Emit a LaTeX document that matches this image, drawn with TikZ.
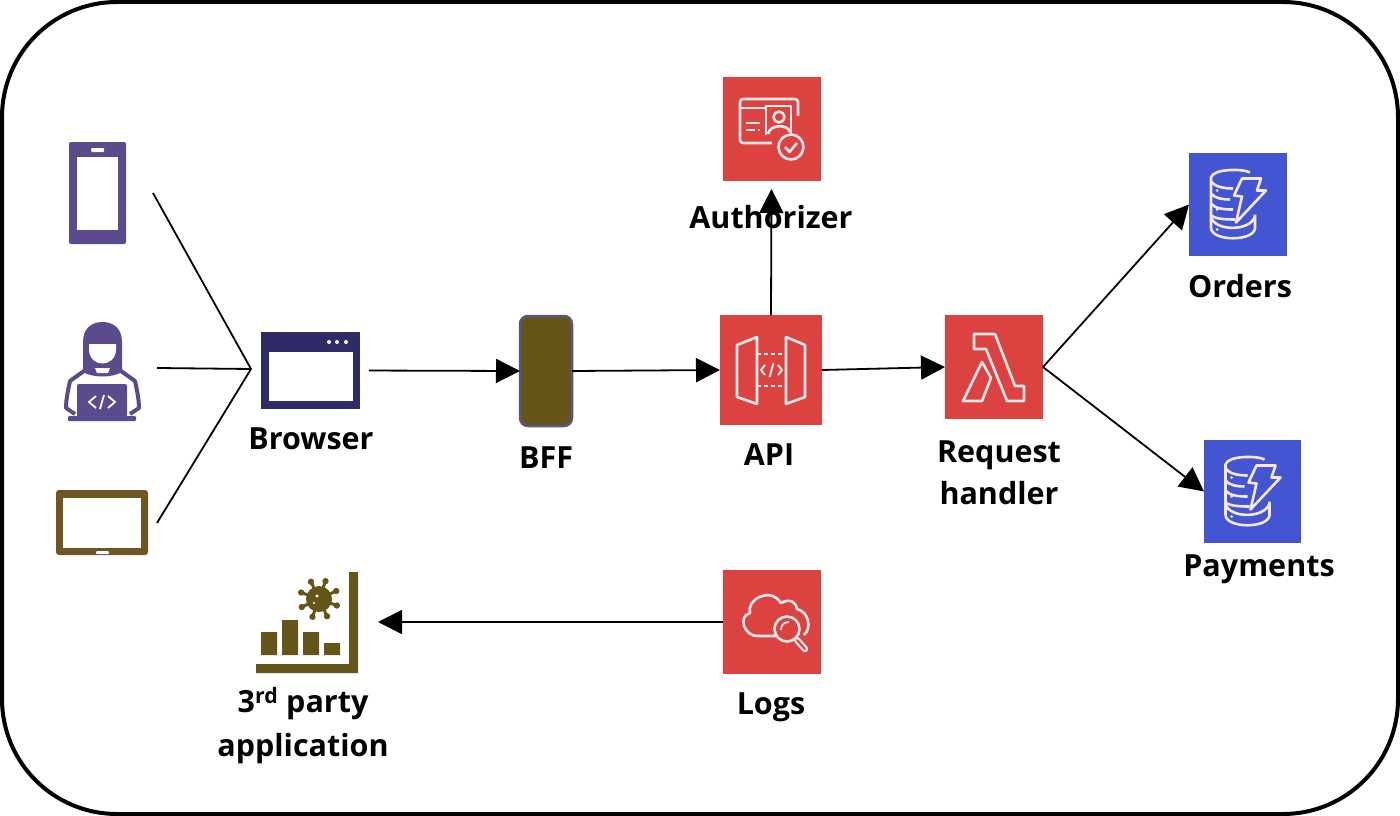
\documentclass[tikz,border=0pt]{standalone}
\usepackage{fontspec}
\setmainfont{Open Sans}
\usetikzlibrary{arrows.meta}

\definecolor{awsred}{HTML}{DC4240}
\definecolor{dbblue}{HTML}{4355D0}
\definecolor{devpurple}{HTML}{5B4A8C}
\definecolor{navy}{HTML}{2F2B66}
\definecolor{olive}{HTML}{665518}
\definecolor{tabletbrown}{HTML}{6E5522}
\definecolor{glyphwhite}{HTML}{F6E8EA}

\tikzset{
  frame/.style={draw=black, line width=4pt, rounded corners=115pt, inner sep=0pt},
  tile/.style={inner sep=0pt, outer sep=0pt},
  label/.style={font=\bfseries\fontsize{30.5}{32}\selectfont, text=black, inner sep=0pt},
  link/.style={draw=black, line width=1.8pt},
  arrow/.style={link, -{Triangle[length=24pt,width=24pt]}},
  glyph/.style={draw=glyphwhite, line width=2.6pt, line join=round},
  pics/dynamo/.style={code={
    \draw[glyph] (-27,24) -- (-27,-27) .. controls (-25,-36) and (5,-36) .. (12,-32);
    \draw[glyph] (-27,-23) .. controls (-23,-18) and (-15,-16) .. (-5,-16);
    \draw[glyph] (-27,-11) .. controls (-23,-6) and (-15,-5) .. (-8,-5);
    \draw[glyph] (-27,-1) .. controls (-23,4) and (-15,5) .. (-5,5);
    \draw[glyph] (-27,11) .. controls (-23,14) and (-15,15) .. (-3,15);
    \draw[glyph] (-27,13) .. controls (-22,27) and (12,27) .. (17,12);
    \draw[glyph] (17,10) -- (17,24) .. controls (15,37) and (-25,37) .. (-27,24);
    \draw[glyph] (4,-26) -- (23,-26) -- (19,-14) -- (28,-14) -- (-2,18) -- (4,-8) -- (-4,-9) -- cycle;
    \foreach \y in {-14,5,25} \fill[glyphwhite] (-21,\y) circle (1.5);
  }}
}

\begin{document}
\begin{tikzpicture}[x=1pt,y=-1pt]
  \useasboundingbox (0,0) rectangle (1400,816);
  \node[frame, minimum width=1396pt, minimum height=812pt] (outline) at (700,408) {};

  % phone
  \node[tile, fill=devpurple, rounded corners=2pt, minimum width=57pt, minimum height=102pt] (phone) at (97.5,193) {};
  \fill[white] (77,157) rectangle (118,230);
  \fill[white, rounded corners=1pt] (91,148) rectangle (104,152);

  % developer
  \coordinate (developer) at (102,372);
  \fill[devpurple] (83,372) -- (83,342) .. controls (83,328) and (92,322) .. (102.5,322) .. controls (113,322) and (122,328) .. (122,342) -- (122,372) .. controls (112,378) and (93,378) .. (83,372) -- cycle;
  \fill[white] (89,344) -- (116,344) -- (116,350) .. controls (115,368) and (90,368) .. (89,350) -- cycle;
  \fill[white] (95,368) -- (110,368) -- (108,373) -- (97,373) -- cycle;
  \draw[devpurple, line width=4pt, line join=round] (84,371) -- (70,381) .. controls (68,390) and (66,400) .. (66,408) -- (75,414);
  \draw[devpurple, line width=4pt, line join=round] (121,371) -- (135,381) .. controls (137,390) and (139,400) .. (139,408) -- (130,414);
  \fill[devpurple, rounded corners=2pt] (77,384) rectangle (127,417);
  \fill[devpurple, rounded corners=1pt] (68,416) rectangle (136,421);
  \draw[white, line width=1.8pt] (96,396) -- (89,402) -- (96,408) (100,409) -- (104,395) (108,396) -- (115,402) -- (108,408);

  % tablet
  \node[tile, fill=tabletbrown, rounded corners=3pt, minimum width=92pt, minimum height=65pt] (tablet) at (102,522.5) {};
  \fill[white] (63,498) rectangle (141,548);
  \fill[white, rounded corners=1pt] (96,551) rectangle (109,554);

  % browser
  \node[tile, fill=navy, minimum width=99pt, minimum height=77pt] (browser) at (310.5,370.5) {};
  \fill[white] (269,352) rectangle (353,401);
  \foreach \x in {329,337,346} \fill[white] (\x,342) circle (2);

  % bff
  \node[tile, fill=olive, draw=navy!80!white, line width=2.5pt, rounded corners=8pt, minimum width=52pt, minimum height=110pt] (bff) at (546,371) {};

  % authorizer
  \node[tile, fill=awsred, minimum width=98pt, minimum height=104pt] (authorizer) at (771.5,129) {};
  \draw[glyph, rounded corners=3pt] (798,116) -- (798,99) -- (740,99) -- (740,143) -- (772,143);
  \draw[glyph] (740,108) -- (766,108);
  \draw[glyph] (746,123) -- (760,123) (746,130) -- (755,130) (758,130) -- (760,130);
  \draw[glyph] (766,135) -- (766,106) -- (791,106) -- (791,133);
  \draw[glyph] (779,117) circle (5.5);
  \draw[glyph] (768,134) .. controls (770,124) and (788,124) .. (790,132);
  \draw[glyph, fill=awsred] (791,147) circle (12.5);
  \draw[glyph] (785,147) -- (789.5,152) -- (797,143);

  % api
  \node[tile, fill=awsred, minimum width=102pt, minimum height=110pt] (api) at (771,370) {};
  \draw[glyph] (737,345) -- (757,337) -- (757,404) -- (737,397) -- cycle;
  \draw[glyph] (786,337) -- (805,345) -- (805,397) -- (786,404) -- cycle;
  \draw[glyph, dash pattern=on 4pt off 3pt] (757,354) -- (786,354) (757,386) -- (786,386);
  \draw[glyph, line width=2pt] (765,365) -- (761,370) -- (765,375) (769.5,377) -- (773.5,363) (778,365) -- (782,370) -- (778,375);

  % lambda
  \node[tile, fill=awsred, minimum width=98pt, minimum height=104pt] (lambda) at (994,367) {};
  \draw[glyph] (974,334) -- (995,334) -- (1015,386) -- (1024,386) -- (1024,401) -- (1007,401) -- (986,349) -- (974,349) -- cycle;
  \draw[glyph] (963,401) -- (982,362) -- (991,378) -- (982,401) -- cycle;

  % orders and payments
  \node[tile, fill=dbblue, minimum width=98pt, minimum height=103pt] (orders) at (1238,204.5) {};
  \node[tile, fill=dbblue, minimum width=97pt, minimum height=103pt] (payments) at (1252.5,491.5) {};
  \pic at (orders.center) {dynamo};
  \pic at (payments.center) {dynamo};

  % logs
  \node[tile, fill=awsred, minimum width=98pt, minimum height=104pt] (logs) at (772,622) {};
  \draw[glyph] (778,636) -- (757,636) .. controls (745,636) and (737,617) .. (750,613) .. controls (746,600) and (770,586) .. (781,603) .. controls (790,598) and (796,602) .. (797,609) .. controls (809,612) and (812,628) .. (804,635);
  \draw[glyph] (787,629) circle (12.5);
  \draw[glyph, line width=1.8pt] (781,630) .. controls (781,625) and (784,622) .. (789,622);
  \draw[glyph, line width=6.5pt, line cap=round] (797,640) -- (805,649);
  \draw[awsred, line width=2pt, line cap=round] (797,640) -- (805,649);

  % 3rd party application
  \coordinate (party) at (357,622);
  \fill[olive] (349,572) rectangle (358,673) (256,664) rectangle (358,673);
  \fill[olive] (261,632) rectangle (277,655) (282,620) rectangle (298,655) (303,632) rectangle (319,655) (324,643) rectangle (340,655);
  \fill[olive] (319,599) circle (13);
  \foreach \a in {0,45,...,315} {
    \draw[olive, line width=3pt] (319,599) -- ++(\a+20:19);
    \fill[olive] (319,599) ++(\a+20:19) circle (3.2);
  }
  \fill[white] (317,596) circle (1.6) (314,603) circle (1.2);

  % hub behind the browser
  \coordinate (hub) at (251,369);
  \coordinate (phoneEnd) at (153,193);
  \coordinate (developerEnd) at (157,368);
  \coordinate (tabletEnd) at (157,523);
  \draw[link] (phoneEnd) -- (hub);
  \draw[link] (developerEnd) -- (hub);
  \draw[link] (tabletEnd) -- (hub);

  \draw[arrow, shorten <=9pt] (browser.east) -- (bff.west);
  \draw[arrow] (bff.east) -- (api.west);
  \draw[arrow] (api.east) -- (lambda.west);
  \draw[arrow, shorten >=8pt] (api.north) -- (authorizer.south);
  \draw[arrow] (lambda.east) -- (orders.west);
  \draw[arrow] (lambda.east) -- (payments.west);
  \draw[arrow, shorten >=21pt] (logs.west) -- (party);

  \node[label] (authorizerLabel) at (771,217) {Authorizer};
  \node[label] (browserLabel) at (311,439) {Browser};
  \node[label] (bffLabel) at (546,458) {BFF};
  \node[label] (apiLabel) at (769,455) {API};
  \node[label] (requestLabel) at (999,455) {Request};
  \node[label] (handlerLabel) at (999,493) {handler};
  \node[label] (ordersLabel) at (1240,286) {Orders};
  \node[label] (paymentsLabel) at (1259,569) {Payments};
  \node[label] (logsLabel) at (771,707) {Logs};
  \node[label] (partyLabel) at (303,704) {3\textsuperscript{rd} party};
  \node[label] (applicationLabel) at (303,749) {application};
\end{tikzpicture}
\end{document}
